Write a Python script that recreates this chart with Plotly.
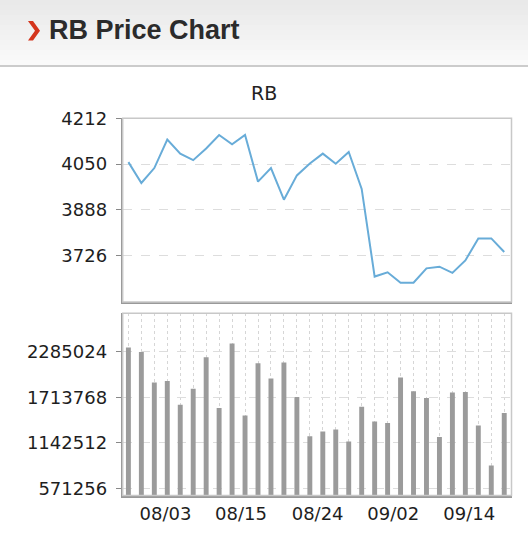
import plotly.graph_objs as go

# RB daily close and volume, 30 sessions
price = [4057, 3983, 4036, 4137, 4087, 4064, 4105, 4153, 4120, 4153,
         3988, 4036, 3924, 4010, 4052, 4087, 4051, 4093, 3962, 3652,
         3667, 3630, 3630, 3681, 3687, 3665, 3709, 3787, 3787, 3739]
volume = [2340000, 2285000, 1899000, 1919000, 1622000, 1823000, 2218000, 1579000, 2390000, 1487000,
          2142000, 1949000, 2151000, 1718000, 1226000, 1285000, 1311000, 1160000, 1597000, 1411000,
          1390000, 1962000, 1790000, 1705000, 1214000, 1773000, 1781000, 1361000, 857000, 1516000]
days = list(range(len(price)))

price_ticks = [3726, 3888, 4050, 4212]
volume_ticks = [571256, 1142512, 1713768, 2285024]
date_labels = ['08/03', '08/15', '08/24', '09/02', '09/14']
date_pos = [2.86, 8.69, 14.6, 20.43, 26.3]

W, H = 528, 556
def px(x):
    return x / W
def py(y):
    return 1 - y / H

tick_font = dict(family='DejaVu Sans', size=18, color='#1e1e1e')

line = go.Scatter(x=days, y=price, mode='lines', xaxis='x', yaxis='y',
                  line=dict(color='#68acd8', width=2), showlegend=False)
bars = go.Bar(x=days, y=volume, xaxis='x2', yaxis='y2', width=0.38,
              marker=dict(color='#9b9b9b', line=dict(width=0)), showlegend=False)

fig = go.Figure(data=[line, bars])

xdom = [px(122.7), px(511.5)]
xrange = [-0.44, 29.56]

shapes = []
# header band (fake gradient)
n = 13
for i in range(n):
    c = int(233 + (250 - 233) * i / (n - 1))
    shapes.append(dict(type='rect', xref='paper', yref='paper', x0=0, x1=1,
                       y0=py(i * 5 + 5.3), y1=py(i * 5), fillcolor='rgb(%d,%d,%d)' % (c, c, c),
                       line=dict(width=0), layer='below'))
shapes.append(dict(type='line', xref='paper', yref='paper', x0=0, x1=1, y0=py(66), y1=py(66),
                   line=dict(color='#cccccc', width=2)))
# red chevron
pts = [(28, 21), (33, 21), (40, 30.7), (33, 40.5), (28, 40.5), (35, 30.7)]
path = 'M ' + ' L '.join('%f,%f' % (px(a), py(b)) for a, b in pts) + ' Z'
shapes.append(dict(type='path', xref='paper', yref='paper', path=path,
                   fillcolor='#d4351c', line=dict(width=0)))
# light frames around both panels
for xr, yr in [('x domain', 'y domain'), ('x2 domain', 'y2 domain')]:
    shapes.append(dict(type='rect', xref=xr, yref=yr, x0=0, x1=1, y0=0, y1=1,
                       line=dict(color='#c8c8c8', width=1.5), layer='above'))

fig.update_layout(
    width=W, height=H,
    margin=dict(l=0, r=0, t=0, b=0, autoexpand=False),
    paper_bgcolor='white', plot_bgcolor='white',
    shapes=shapes,
    xaxis=dict(domain=xdom, range=xrange, anchor='y', showticklabels=False, automargin=False,
               showgrid=False, zeroline=False, showline=True, linecolor='#999999',
               linewidth=2, ticks=''),
    yaxis=dict(domain=[py(302), py(118.3)], range=[3562, 4212], anchor='x', automargin=False,
               tickvals=price_ticks, tickfont=tick_font, ticks='outside', ticklen=5,
               tickcolor='#888888', ticklabelstandoff=5, showline=True, linecolor='#999999',
               linewidth=2, gridcolor='#dddddd', griddash='dash', zeroline=False),
    xaxis2=dict(domain=xdom, range=xrange, anchor='y2', tickvals=date_pos, automargin=False,
                ticktext=date_labels, tickfont=tick_font, ticks='', showgrid=False,
                ticklabelstandoff=1, zeroline=False, showline=True, linecolor='#999999',
                linewidth=2,
                minor=dict(tick0=0, dtick=1, showgrid=True, gridcolor='#d6d6d6',
                           griddash='dot', ticks='')),
    yaxis2=dict(domain=[py(495.5), py(313.3)], range=[480000, 2770000], anchor='x2',
                automargin=False, tickvals=volume_ticks, tickformat='d', tickfont=tick_font,
                ticks='outside', ticklen=5, tickcolor='#888888', ticklabelstandoff=5,
                showline=True, linecolor='#999999', linewidth=2, gridcolor='#dddddd',
                griddash='dash', zeroline=False),
    annotations=[
        dict(text='<b>RB Price Chart</b>', xref='paper', yref='paper', x=px(47), y=py(30.5),
             xanchor='left', yanchor='middle', showarrow=False,
             font=dict(family='Liberation Sans, Arial', size=27, color='#2b2b2b')),
        dict(text='RB', xref='paper', yref='paper', x=0.5, y=py(93),
             xanchor='center', yanchor='middle', showarrow=False,
             font=dict(family='DejaVu Sans', size=19, color='#222222')),
    ],
)

# pin the figure to the window's top-left corner
pin = ("document.body.style.margin='0px';"
       "var d=document.getElementById('{plot_id}');"
       "d.style.position='absolute';d.style.top='0px';d.style.left='0px';")
fig.write_html('out.html', post_script=pin, config={'displayModeBar': False})
